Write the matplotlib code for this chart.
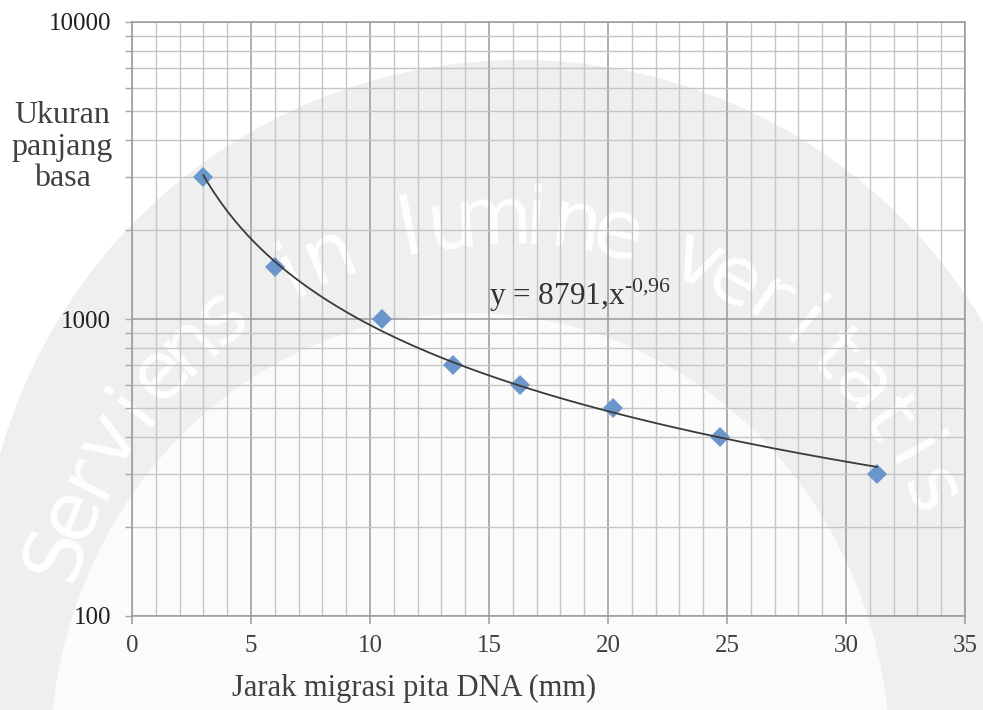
import numpy as np
import matplotlib.pyplot as plt
from matplotlib.patches import Circle, Ellipse
from matplotlib.ticker import FixedLocator, LogLocator, NullFormatter

# ---------------------------------------------------------------------------
# Data
# ---------------------------------------------------------------------------

jarak_mm = [3.0, 6.0, 10.5, 13.5, 16.3, 20.2, 24.7, 31.3]
ukuran_bp = [3000, 1500, 1000, 700, 600, 500, 400, 300]
x_ticks = [0, 5, 10, 15, 20, 25, 30, 35]
y_ticks = [100, 1000, 10000]
y_tick_labels = ["100", "1000", "10000"]
equation = r"y = 8791,x$^{\text{-0,96}}$"

SERIF = "Liberation Serif"
plt.rcParams["font.family"] = SERIF
plt.rcParams["mathtext.fontset"] = "custom"
plt.rcParams["mathtext.rm"] = SERIF

W, H = 983, 710
fig = plt.figure(figsize=(W / 100, H / 100), dpi=100)

# ---------------------------------------------------------------------------
# Background watermark (light grey band with motto)
# ---------------------------------------------------------------------------
bg = fig.add_axes([0, 0, 1, 1], zorder=0)
bg.set_xlim(0, W)
bg.set_ylim(H, 0)
bg.axis("off")
bg.add_patch(Circle((520, 600), 540, color="#efefef", lw=0))
bg.add_patch(Ellipse((470, 760), 840, 894, color="#fbfbfb", lw=0))

motto = "Serviens in lumine veritatis"
cx, cy, r = 505, 690, 468
angles = np.linspace(163, 25, len(motto))
for ch, a in zip(motto, angles):
    t = np.deg2rad(a)
    bg.text(cx + r * np.cos(t), cy - r * np.sin(t), ch, rotation=a - 90,
            ha="center", va="center", fontsize=58, color="white",
            family="DejaVu Sans", alpha=0.95, rotation_mode="anchor")

# ---------------------------------------------------------------------------
# Main chart
# ---------------------------------------------------------------------------
ax = fig.add_axes([132 / W, 1 - 616 / H, 833 / W, 594 / H], zorder=1)
ax.set_facecolor("none")
ax.set_yscale("log")
ax.set_xlim(0, 35)
ax.set_ylim(100, 10000)

ax.xaxis.set_major_locator(FixedLocator(x_ticks))
ax.xaxis.set_minor_locator(FixedLocator(np.arange(0, 36, 1)))
ax.set_yticks(y_ticks)
ax.set_yticklabels(y_tick_labels)
ax.yaxis.set_minor_locator(LogLocator(base=10, subs=np.arange(2, 10)))
ax.yaxis.set_minor_formatter(NullFormatter())

ax.grid(True, which="major", color="#9a9a9a", lw=1.1)
ax.grid(True, which="minor", color="#c6c6c6", lw=1.0)
ax.set_axisbelow(True)

for s in ax.spines.values():
    s.set_color("#9a9a9a")
    s.set_linewidth(1.1)

ax.tick_params(axis="x", which="major", length=6, width=1.1, color="#9a9a9a",
               labelsize=18, pad=8, labelcolor="#404040")
ax.tick_params(axis="x", which="minor", length=0)
ax.tick_params(axis="y", which="both", length=5, width=1.0, color="#a8a8a8",
               labelsize=18, pad=10, labelcolor="#202020")

# power-law trendline fitted on the data
b, log_a = np.polyfit(np.log(jarak_mm), np.log(ukuran_bp), 1)
xs = np.linspace(min(jarak_mm), max(jarak_mm), 200)
ax.plot(xs, np.exp(log_a) * xs ** b, color="#3a3a3a", lw=1.3, zorder=3)

ax.plot(jarak_mm, ukuran_bp, linestyle="none", marker="D", markersize=10,
        color="#6a96cc", markeredgewidth=0, zorder=2)

ax.text(15.0, 1040, equation, fontsize=22.5, color="#333333",
        ha="left", va="bottom")

fig.text(62 / W, 1 - 147 / H, "Ukuran\npanjang\nbasa", ha="center",
         va="center", fontsize=23, color="#404040", linespacing=1.12)
fig.text(414 / W, 1 - 688 / H, "Jarak migrasi pita DNA (mm)", ha="center",
         va="center", fontsize=22, color="#404040")

fig.savefig("out.png", dpi=100)
